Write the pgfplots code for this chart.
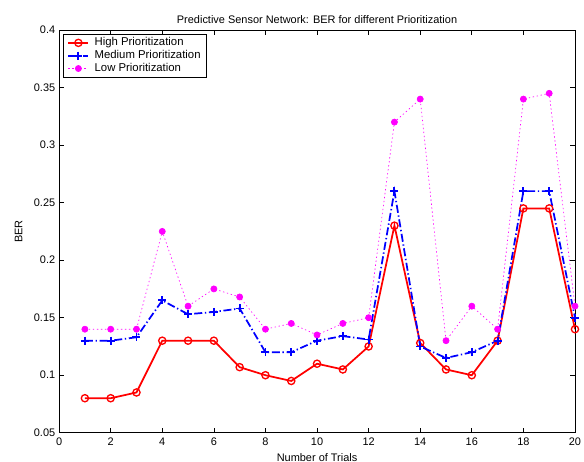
\documentclass[border=0pt]{standalone}
\usepackage{pgfplots}
\pgfplotsset{compat=1.18}
\usepackage{fontspec}
\setmainfont{Liberation Sans}
\definecolor{mred}{rgb}{1,0,0}
\definecolor{mblue}{rgb}{0,0,1}
\definecolor{mmag}{rgb}{1,0,1}
\begin{document}
\fontsize{8.2}{9.5}\selectfont
\begin{tikzpicture}
\begin{axis}[
  scale only axis,
  width=386.25pt, height=301.5pt,
  xmin=0, xmax=20, ymin=0.05, ymax=0.4,
  xtick={0,2,...,20},
  ytick={0.05,0.1,0.15,0.2,0.25,0.3,0.35,0.4},
  yticklabels={0.05,0.1,0.15,0.2,0.25,0.3,0.35,0.4},
  xticklabels={0,2,4,6,8,10,12,14,16,18,20},
  tick align=inside,
  major tick length=3.5pt,
  tick style={black, line width=0.5pt},
  axis line style={line width=0.6pt},
  xticklabel style={font=\fontsize{8.2}{9.5}\selectfont, yshift=-1pt},
  yticklabel style={font=\fontsize{8.2}{9.5}\selectfont},
  title={Predictive Sensor Network: BER for different Prioritization},
  title style={font=\fontsize{8.2}{9.5}\selectfont, yshift=-4pt},
  xlabel={Number of Trials},
  ylabel={BER},
  xlabel style={font=\fontsize{8.2}{9.5}\selectfont, yshift=0pt},
  ylabel style={font=\fontsize{8.2}{9.5}\selectfont, yshift=3pt},
  legend style={at={(rel axis cs:0,1)}, anchor=north west, xshift=3pt, yshift=-3pt,
    draw=black, line width=0.6pt, font=\fontsize{8.5}{9.5}\selectfont,
    inner xsep=3pt, inner ysep=1.5pt, row sep=0pt,
    nodes={inner sep=1pt, text height=6pt, text depth=1.6pt},
    cells={anchor=west},
    /tikz/every odd column/.append style={column sep=3pt}},
  legend image code/.code={\draw[mark repeat=2,mark phase=2] plot coordinates {(0pt,0pt)(7.5pt,0pt)(15pt,0pt)};},
  legend cell align=left,
]
\addplot[mred, line width=1.3pt, mark=o, mark size=2.7pt, mark options={line width=1pt, solid}]
coordinates {(1,0.08)(2,0.08)(3,0.085)(4,0.13)(5,0.13)(6,0.13)(7,0.107)(8,0.10)(9,0.095)(10,0.11)
(11,0.105)(12,0.125)(13,0.23)(14,0.128)(15,0.105)(16,0.10)(17,0.13)(18,0.245)(19,0.245)(20,0.14)};
\addlegendentry{High Prioritization}
\addplot[mblue, line width=1.3pt, dash pattern=on 6pt off 2pt on 1pt off 2pt, mark=+, mark size=3pt, mark options={line width=1.4pt, solid}]
coordinates {(1,0.13)(2,0.13)(3,0.133)(4,0.165)(5,0.153)(6,0.155)(7,0.158)(8,0.12)(9,0.12)(10,0.13)
(11,0.134)(12,0.131)(13,0.26)(14,0.125)(15,0.115)(16,0.12)(17,0.13)(18,0.26)(19,0.26)(20,0.15)};
\addlegendentry{Medium Prioritization}
\addplot[mmag, line width=0.5pt, dash pattern=on 1pt off 2pt, mark=*, mark size=2.3pt, mark options={solid, fill=mmag, draw=mmag}]
coordinates {(1,0.14)(2,0.14)(3,0.14)(4,0.225)(5,0.16)(6,0.175)(7,0.168)(8,0.14)(9,0.145)(10,0.135)
(11,0.145)(12,0.15)(13,0.32)(14,0.34)(15,0.13)(16,0.16)(17,0.14)(18,0.34)(19,0.345)(20,0.16)};
\addlegendentry{Low Prioritization}
\end{axis}
\pgfresetboundingbox
\path (current axis.south west) ++(-44.25pt,-21.75pt) coordinate (bl);
\path (current axis.north east) ++(6.75pt,22.5pt) coordinate (tr);
\path[use as bounding box] (bl) rectangle (tr);
\end{tikzpicture}
\end{document}
